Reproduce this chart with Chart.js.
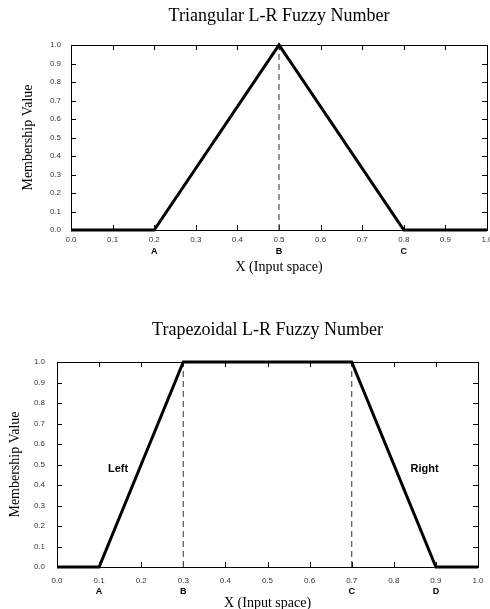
<!DOCTYPE html>
<html>
<head>
<meta charset="utf-8">
<script src="https://cdn.jsdelivr.net/npm/chart.js@4.4.1/dist/chart.umd.min.js"></script>
<style>
    body { margin: 0; background: #fff; width: 490px; height: 609px; overflow: hidden; position: relative; }
    .box { position: absolute; left: 0; width: 490px; }
    #triBox { top: 0; height: 280px; }
    #trapBox { top: 300px; height: 312px; }
</style>
</head>
<body>
<div class="box" id="triBox"><canvas id="triChart"></canvas></div>
<div class="box" id="trapBox"><canvas id="trapChart"></canvas></div>
<script>
// triangular number
const triX = [0, 0.2, 0.5, 0.8, 1.0];
const triY = [0, 0, 1, 0, 0];
const triPeakX = [0.5];
const triLetterX = [0.2, 0.5, 0.8];
const triLetters = ['A', 'B', 'C'];

// trapezoidal number
const trapX = [0, 0.1, 0.3, 0.7, 0.9, 1.0];
const trapY = [0, 0, 1, 1, 0, 0];
const trapCoreX = [0.3, 0.7];
const trapLetterX = [0.1, 0.3, 0.7, 0.9];
const trapLetters = ['A', 'B', 'C', 'D'];
const trapNotes = ['Left', 'Right'];
const trapNoteX = [0.145, 0.873];
const trapNoteY = [0.477, 0.477];

const SERIF = '"Liberation Serif", "Times New Roman", serif';
const SANS = '"Liberation Sans", Arial, sans-serif';

// box around the plot and inward tick marks on all four sides
const frameTicks = {
    id: 'frameTicks',
    beforeDatasetsDraw(chart) {
        const {ctx, chartArea: a, scales: {x, y}} = chart;
        const len = 5;
        ctx.save();
        ctx.strokeStyle = '#000';
        ctx.lineWidth = 1;
        ctx.beginPath();
        x.ticks.forEach(t => {
            const px = Math.round(x.getPixelForValue(t.value)) + 0.5;
            ctx.moveTo(px, a.bottom); ctx.lineTo(px, a.bottom - len);
            ctx.moveTo(px, a.top); ctx.lineTo(px, a.top + len);
        });
        y.ticks.forEach(t => {
            const py = Math.round(y.getPixelForValue(t.value)) + 0.5;
            ctx.moveTo(a.left, py); ctx.lineTo(a.left + len, py);
            ctx.moveTo(a.right, py); ctx.lineTo(a.right - len, py);
        });
        ctx.stroke();
        ctx.strokeRect(Math.round(a.left) + 0.5, Math.round(a.top) + 0.5,
            Math.round(a.right - a.left), Math.round(a.bottom - a.top));
        ctx.restore();
    }
};

// free text labels placed in data coordinates
const notes = {
    id: 'notes',
    afterDatasetsDraw(chart, args, opts) {
        if (!opts.texts) return;
        const {ctx, scales: {x, y}} = chart;
        ctx.save();
        ctx.font = 'bold 11px ' + SANS;
        ctx.fillStyle = '#000';
        ctx.textAlign = 'center';
        ctx.textBaseline = 'middle';
        opts.texts.forEach((txt, i) => {
            ctx.fillText(txt, x.getPixelForValue(opts.xs[i]), y.getPixelForValue(opts.ys[i]));
        });
        ctx.restore();
    }
};

function makeChart(canvas, cfg) {
    const line = cfg.xs.map((v, i) => ({x: v, y: cfg.ys[i]}));
    const dashed = cfg.dashX.map(v => [{x: v, y: 0}, {x: v, y: 1}]);
    const datasets = [{
        data: line,
        showLine: true,
        borderColor: '#000',
        borderWidth: 3,
        pointRadius: 0,
        clip: false,
        order: 0
    }];
    dashed.forEach(d => datasets.push({
        data: d,
        showLine: true,
        borderColor: '#555',
        borderWidth: 1.2,
        borderDash: [6, 4],
        pointRadius: 0,
        clip: false,
        order: 1
    }));

    return new Chart(canvas, {
        type: 'scatter',
        data: {datasets: datasets},
        options: {
            responsive: true,
            maintainAspectRatio: false,
            animation: false,
            events: [],
            layout: {
                autoPadding: false,
                padding: {left: 0, right: cfg.padRight, top: 0, bottom: 0}
            },
            plugins: {
                legend: {display: false},
                tooltip: {enabled: false},
                title: {
                    display: true,
                    text: cfg.title,
                    fullSize: false,
                    color: '#000',
                    font: {family: SERIF, size: 18, weight: 'normal', lineHeight: 1.2},
                    padding: {top: cfg.titleTop, bottom: cfg.titleBottom}
                },
                notes: cfg.notes || {}
            },
            scales: {
                x: {
                    type: 'linear',
                    position: 'bottom',
                    weight: 0,
                    min: 0,
                    max: 1,
                    grid: {display: false, drawTicks: false},
                    border: {display: false},
                    ticks: {
                        stepSize: 0.1,
                        color: '#333',
                        padding: cfg.xPad,
                        font: {family: SANS, size: 8, lineHeight: 1.2},
                        maxRotation: 0,
                        autoSkip: false,
                        callback: v => v.toFixed(1)
                    },
                    afterFit: s => { s.height = cfg.xH; s.paddingLeft = 0; s.paddingRight = 0; }
                },
                letters: {
                    type: 'linear',
                    position: 'bottom',
                    axis: 'x',
                    weight: 1,
                    min: 0,
                    max: 1,
                    grid: {display: false, drawTicks: false},
                    border: {display: false},
                    afterBuildTicks: s => { s.ticks = cfg.letterX.map(v => ({value: v})); },
                    ticks: {
                        color: '#000',
                        padding: cfg.letterPad,
                        autoSkip: false,
                        maxRotation: 0,
                        font: {family: SANS, size: 9, weight: 'bold', lineHeight: 1.2},
                        callback: (v, i) => cfg.letters[i]
                    },
                    title: {
                        display: true,
                        text: 'X (Input space)',
                        color: '#000',
                        font: {family: SERIF, size: 14, lineHeight: 1.2},
                        padding: {top: 0, bottom: cfg.xTitlePad}
                    },
                    afterFit: s => { s.height = cfg.letterH; s.paddingLeft = 0; s.paddingRight = 0; }
                },
                y: {
                    type: 'linear',
                    min: 0,
                    max: 1,
                    grid: {display: false, drawTicks: false},
                    border: {display: false},
                    ticks: {
                        stepSize: 0.1,
                        color: '#333',
                        padding: cfg.yPad,
                        font: {family: SANS, size: 8, lineHeight: 1.2},
                        callback: v => v.toFixed(1)
                    },
                    title: {
                        display: true,
                        text: 'Membership Value',
                        color: '#000',
                        font: {family: SERIF, size: 14, lineHeight: 1.2},
                        padding: {top: cfg.yTitlePad, bottom: 0}
                    },
                    afterFit: s => { s.width = cfg.yW; s.paddingTop = 0; s.paddingBottom = 0; }
                }
            }
        },
        plugins: [frameTicks, notes]
    });
}

makeChart(document.getElementById('triChart'), {
    xs: triX, ys: triY, dashX: triPeakX,
    letterX: triLetterX, letters: triLetters,
    title: 'Triangular L-R Fuzzy Number',
    titleTop: 5.9, titleBottom: 17.5,
    padRight: 3,
    yW: 71, yPad: 10, yTitlePad: 19.6,
    xH: 16, xPad: 5.2,
    letterH: 34, letterPad: 0.6, xTitlePad: 4.6
});

makeChart(document.getElementById('trapChart'), {
    xs: trapX, ys: trapY, dashX: trapCoreX,
    letterX: trapLetterX, letters: trapLetters,
    title: 'Trapezoidal L-R Fuzzy Number',
    titleTop: 19.2, titleBottom: 21.2,
    padRight: 12,
    yW: 57, yPad: 12, yTitlePad: 6.6,
    xH: 19, xPad: 8.9,
    letterH: 26, letterPad: 0.3, xTitlePad: 0.6,
    notes: {texts: trapNotes, xs: trapNoteX, ys: trapNoteY}
});
</script>
</body>
</html>
